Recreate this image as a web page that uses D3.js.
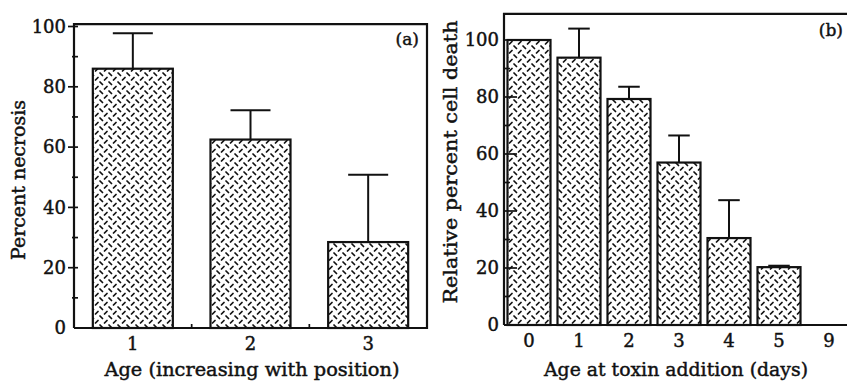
<!DOCTYPE html>
<html>
<head>
<meta charset="utf-8">
<script src="https://cdn.jsdelivr.net/npm/d3@7"></script>
<style>
  html, body { margin: 0; padding: 0; background: #fff; }
  svg { display: block; }
  text { font-family: "DejaVu Serif", "Liberation Serif", serif; fill: #111; stroke: #111; stroke-width: 0.45px; }
</style>
</head>
<body>
<svg id="chart" width="847" height="381"></svg>
<script>
// ---- Data ----
const catsA = ["1", "2", "3"];
const valuesA = [86, 62.5, 28.5];
const errTopA = [97.8, 72.2, 50.8];
const yTicksA = [0, 20, 40, 60, 80, 100];

const catsB = ["0", "1", "2", "3", "4", "5", "9"];
const valuesB = [100, 93.8, 79.3, 57, 30.5, 20.3, 0];
const errTopB = [null, 104, 83.6, 66.5, 43.8, 20.8, null];
const yTicksB = [0, 20, 40, 60, 80, 100];

const svg = d3.select("#chart");
const ink = "#111";

// pattern
const defs = svg.append("defs");
const T = 9;
const pat = defs.append("pattern").attr("id", "hatch")
  .attr("patternUnits", "userSpaceOnUse").attr("width", T).attr("height", T);
pat.append("rect").attr("width", T).attr("height", T).attr("fill", "#fff");
[[1,1,3.5,3.5],[5.5,8,8,5.5]].forEach(d => {
  pat.append("line").attr("x1", d[0]).attr("y1", d[1]).attr("x2", d[2]).attr("y2", d[3])
    .attr("stroke", ink).attr("stroke-width", 1.7).attr("stroke-linecap", "round");
});

function panel(opt) {
  const g = svg.append("g");
  const x = d3.scaleBand().domain(opt.cats).range([opt.x0, opt.x1])
    .paddingInner(opt.pad).paddingOuter(opt.pad / 2);
  const y = d3.scaleLinear().domain([0, 100]).range([opt.y0, opt.y100]);

  // frame
  const topY = y(opt.frameTop);
  g.append("path")
    .attr("d", `M${opt.x0},${opt.y0} L${opt.x0},${topY} L${opt.frameRight},${topY} L${opt.frameRight},${opt.y0} L${opt.x0},${opt.y0}`)
    .attr("fill", "none").attr("stroke", ink).attr("stroke-width", 2.2);

  // bars
  g.selectAll("rect.bar").data(opt.cats).join("rect")
    .attr("x", d => x(d))
    .attr("y", (d, i) => y(opt.values[i]))
    .attr("width", x.bandwidth())
    .attr("height", (d, i) => opt.y0 - y(opt.values[i]))
    .attr("fill", "url(#hatch)")
    .attr("stroke", ink).attr("stroke-width", 2.2);

  // error bars
  opt.cats.forEach((d, i) => {
    const e = opt.errTop[i];
    if (e == null) return;
    const cx = x(d) + x.bandwidth() / 2;
    const cw = x.bandwidth() / 2;
    g.append("line").attr("x1", cx).attr("x2", cx)
      .attr("y1", y(opt.values[i])).attr("y2", y(e))
      .attr("stroke", ink).attr("stroke-width", 2);
    g.append("line").attr("x1", cx - cw / 2).attr("x2", cx + cw / 2)
      .attr("y1", y(e)).attr("y2", y(e))
      .attr("stroke", ink).attr("stroke-width", 2);
  });

  // y axis labels
  const yAxis = d3.axisLeft(y).tickValues(opt.yTicks).tickSizeInner(0).tickSizeOuter(0).tickPadding(opt.labPad);
  const ya = g.append("g").attr("transform", `translate(${opt.x0},0)`).call(yAxis);
  ya.select(".domain").remove();
  ya.selectAll("text").style("font-size", "18px").attr("fill", ink);
  // major & minor ticks
  const minors = d3.range(10, 100, 20);
  g.selectAll("line.maj").data(opt.yTicks.filter(v => v > 0)).join("line")
    .attr("x1", opt.x0 + opt.majIn[0]).attr("x2", opt.x0 + opt.majIn[1])
    .attr("y1", d => y(d)).attr("y2", d => y(d))
    .attr("stroke", ink).attr("stroke-width", 1.7);
  g.selectAll("line.min").data(minors).join("line")
    .attr("x1", opt.x0 + opt.minIn[0]).attr("x2", opt.x0 + opt.minIn[1])
    .attr("y1", d => y(d)).attr("y2", d => y(d))
    .attr("stroke", ink).attr("stroke-width", 1.7);

  // x axis labels
  const xAxis = d3.axisBottom(x).tickSizeInner(0).tickSizeOuter(0).tickPadding(9);
  const xa = g.append("g").attr("transform", `translate(0,${opt.y0})`).call(xAxis);
  xa.select(".domain").remove();
  xa.selectAll("text").style("font-size", "18px").attr("fill", ink);

  // x boundary ticks
  if (opt.xBoundTicks) {
    g.selectAll("line.xb").data(opt.cats.slice(1)).join("line")
      .attr("x1", d => x(d) - x.step() * x.paddingInner() / 2)
      .attr("x2", d => x(d) - x.step() * x.paddingInner() / 2)
      .attr("y1", opt.y0).attr("y2", opt.y0 - 4)
      .attr("stroke", ink).attr("stroke-width", 1.7);
  }

  // titles
  g.append("text").attr("x", opt.xTitleX).attr("y", 376)
    .attr("text-anchor", "middle").style("font-size", "19px")
    .attr("textLength", opt.xTitleLen).attr("lengthAdjust", "spacingAndGlyphs")
    .text(opt.xTitle);
  g.append("text").attr("transform", `translate(${opt.yTitleX},${opt.yTitleY}) rotate(-90)`)
    .attr("text-anchor", "middle").style("font-size", "19px")
    .attr("textLength", opt.yTitleLen).attr("lengthAdjust", "spacingAndGlyphs")
    .text(opt.yTitle);
  g.append("text").attr("x", opt.tagX).attr("y", opt.tagY)
    .attr("text-anchor", "end").style("font-size", "17px").text(opt.tag);
}

panel({
  cats: catsA, values: valuesA, errTop: errTopA, yTicks: yTicksA,
  x0: 74, x1: 427, pad: 0.32, y0: 328, y100: 26.5, frameTop: 100.8, frameRight: 427,
  labPad: 8, majIn: [-6, 4], minIn: [-2, 4], xBoundTicks: true,
  xTitle: "Age (increasing with position)", xTitleX: 252, xTitleLen: 295,
  yTitle: "Percent necrosis", yTitleX: 25, yTitleY: 180, yTitleLen: 160,
  tag: "(a)", tagX: 419, tagY: 45
});

panel({
  cats: catsB, values: valuesB, errTop: errTopB, yTicks: yTicksB,
  x0: 504, x1: 854, pad: 0.14, y0: 325, y100: 40, frameTop: 109.2, frameRight: 852,
  labPad: 5, majIn: [0, 13], minIn: [0, 6], xBoundTicks: false,
  xTitle: "Age at toxin addition (days)", xTitleX: 676, xTitleLen: 264,
  yTitle: "Relative percent cell death", yTitleX: 457, yTitleY: 162, yTitleLen: 283,
  tag: "(b)", tagX: 843, tagY: 36
});
</script>
</body>
</html>
